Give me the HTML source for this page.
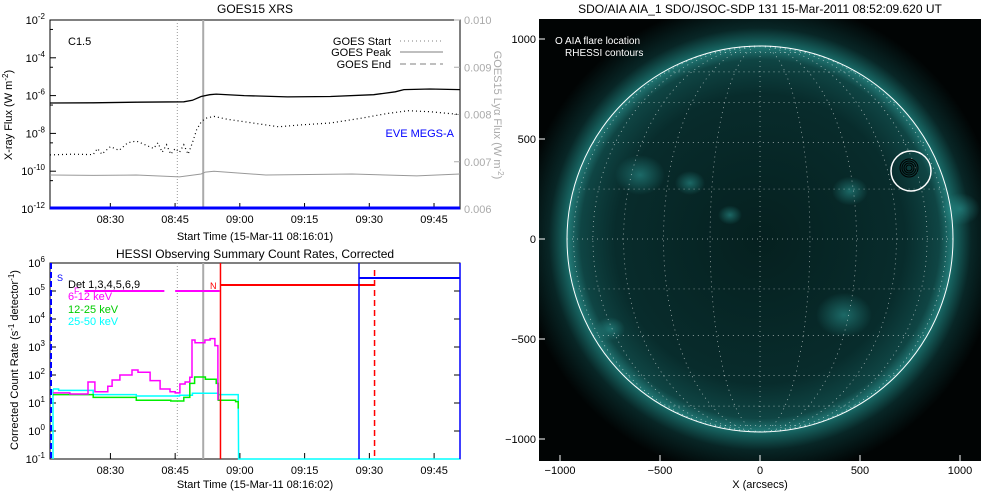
<!DOCTYPE html>
<html><head><meta charset="utf-8">
<style>
html,body{margin:0;padding:0;background:#fff;width:1000px;height:500px;overflow:hidden}
svg{display:block;font-family:"Liberation Sans",sans-serif}
</style></head>
<body>
<svg id="root" width="1000" height="500" viewBox="0 0 1000 500">
<defs>
<radialGradient id="haloG" cx="760" cy="239" r="240" gradientUnits="userSpaceOnUse">
<stop offset="0.78" stop-color="#26908c"/>
<stop offset="0.81" stop-color="#176562"/>
<stop offset="0.88" stop-color="#082626"/>
<stop offset="1" stop-color="#010404"/>
</radialGradient>
<radialGradient id="diskG" cx="760" cy="239" r="193" gradientUnits="userSpaceOnUse">
<stop offset="0" stop-color="#05201f"/>
<stop offset="0.75" stop-color="#082c2c"/>
<stop offset="0.93" stop-color="#0f4544"/>
<stop offset="1" stop-color="#237c79"/>
</radialGradient>
<radialGradient id="blob" cx="0.5" cy="0.5" r="0.5">
<stop offset="0" stop-color="#2a9490" stop-opacity="0.6"/>
<stop offset="1" stop-color="#2a9490" stop-opacity="0"/>
</radialGradient>
<clipPath id="imgClip"><rect x="539" y="19" width="442" height="442"/></clipPath>
</defs>
<g id="goes"></g>
<g id="hessi"></g>
<g id="aia"></g>
</svg>
<script>
// ---------- GOES data (t in minutes after 08:16:01, values log10 W m^-2) ----------
const goesLongT = [0, 10, 20, 31, 33, 35, 37, 38.5, 45, 55, 65, 75, 80, 82, 88, 95];
const goesLongV = [-6.39, -6.38, -6.35, -6.33, -6.25, -6.05, -5.95, -5.92, -6.0, -6.07, -6.05, -5.95, -5.8, -5.68, -5.65, -5.68];
const goesShortT = [0, 5, 10, 11, 12, 14, 16, 18, 20, 22, 24, 25, 26, 27, 28, 29, 30, 31, 32, 33, 34, 35, 36, 38, 41, 47, 53, 58, 65, 72, 78, 83, 88, 95];
const goesShortV = [-9.14, -9.1, -9.12, -8.8, -9.1, -8.7, -8.9, -8.5, -8.4, -8.6, -8.8, -8.5, -9.0, -8.6, -9.1, -8.8, -9.0, -8.6, -9.1, -8.5, -7.8, -7.4, -7.2, -7.1, -7.25, -7.45, -7.65, -7.55, -7.45, -7.2, -6.95, -6.8, -6.85, -7.0];
const goesLyaT = [0, 10, 20, 30, 35, 36, 38, 50, 70, 85, 95];
const goesLyaV = [-10.2, -10.22, -10.2, -10.3, -10.15, -10.05, -10.0, -10.2, -10.15, -10.25, -10.15];
const goesYTicks = [-2, -4, -6, -8, -10, -12];
const goesRightTicks = ["0.010", "0.009", "0.008", "0.007", "0.006"];
const timeTickLabels = ["08:30", "08:45", "09:00", "09:15", "09:30", "09:45"];
const timeTickMin = [13.98, 28.98, 43.98, 58.98, 73.98, 88.98];
const goesStartT = 29.5, goesPeakT = 35.5;

// ---------- HESSI data (t minutes after 08:16:02, log10 counts) ----------
const magT = [0.7, 4.6, 8.8, 10.4, 13.4, 14.4, 16.2, 19, 20.4, 23.2, 25.5, 27.8, 29, 30.1, 31.3, 32.4, 32.9, 33.6, 35.9, 37.1, 38.2, 38.9];
const magV = [1.36, 1.32, 1.75, 1.4, 1.6, 1.82, 2.0, 2.18, 2.1, 1.8, 1.5, 1.4, 1.36, 1.68, 1.75, 1.92, 3.25, 3.15, 3.25, 3.3, 3.05, 1.1];
const grnT = [0.7, 10, 20, 28, 29, 31, 32.4, 33.5, 36, 38.5, 39, 43, 43.6];
const grnV = [1.3, 1.2, 1.1, 1.07, 1.07, 1.2, 1.7, 1.93, 1.85, 1.7, 1.1, 1.05, 0.8];
const cyaT = [0.7, 2, 10, 20, 30, 33, 39, 43.6];
const cyaV = [1.5, 1.45, 1.3, 1.25, 1.28, 1.35, 1.3, 1.3];
const hessiYTicks = [6, 5, 4, 3, 2, 1, 0, -1];

// ---------- AIA ----------
const axTicks = [-1000, -500, 0, 500, 1000];
const flareX = 755, flareY = 340;
const sunR = 965;

const NS = "http://www.w3.org/2000/svg";
function mk(parent, tag, attrs, text) {
  const e = document.createElementNS(NS, tag);
  for (const k in attrs) e.setAttribute(k, attrs[k]);
  if (text !== undefined) e.textContent = text;
  parent.appendChild(e);
  return e;
}
const X0 = 50, X1 = 460;
const tx = t => X0 + t * (X1 - X0) / 95;

// ===== GOES panel =====
const G = document.getElementById("goes");
const gy = v => 20 + (-2 - v) * 18.9;
let e;
e = mk(G, "text", {x: 255, y: 13, "text-anchor": "middle", "font-size": 12}, "GOES15 XRS");


e = mk(G, "rect", {x: X0, y: 20, width: X1 - X0, height: 189, fill: "none", stroke: "#000"});


goesYTicks.forEach((v, i) => {
  const y = gy(v);
  const t = mk(G, "text", {x: 45, y: y + 4, "text-anchor": "end", "font-size": 11});
  
  
  t.innerHTML = '10<tspan dy="-5" font-size="8">' + v + '</tspan>';
  mk(G, "line", {x1: X0, x2: X0 + 6, y1: y, y2: y, stroke: "#000"});
  if (i < goesYTicks.length - 1) mk(G, "line", {x1: X0, x2: X0 + 3, y1: y + 9.45, y2: y + 9.45, stroke: "#000"});
});
goesRightTicks.forEach((s, i) => {
  const y = 20 + i * 189 / 4;
  const t = mk(G, "text", {x: 464, y: y + 4, "font-size": 11, fill: "#aaa"}, s);
  
  
  mk(G, "line", {x1: X1, x2: X1 - 6, y1: y, y2: y, stroke: "#aaa"});
});
timeTickMin.forEach((m, i) => {
  const x = tx(m);
  const t = mk(G, "text", {x: x, y: 223, "text-anchor": "middle", "font-size": 11}, timeTickLabels[i]);
  
  
  mk(G, "line", {x1: x, x2: x, y1: 209, y2: 203, stroke: "#000"});
});
e = mk(G, "text", {x: 255, y: 240, "text-anchor": "middle", "font-size": 11}, "Start Time (15-Mar-11 08:16:01)");


e = mk(G, "text", {x: 0, y: 0, "text-anchor": "middle", "font-size": 11, transform: "translate(12,115) rotate(-90)"});
e.innerHTML = 'X-ray Flux (W m<tspan dy="-4" font-size="8">-2</tspan><tspan dy="4">)</tspan>';


e = mk(G, "text", {x: 0, y: 0, "text-anchor": "middle", "font-size": 11, fill: "#aaa", transform: "translate(494,115) rotate(90)"});
e.innerHTML = 'GOES15 Lyα Flux (W m<tspan dy="-4" font-size="8">-2</tspan><tspan dy="4">)</tspan>';


e = mk(G, "line", {x1: tx(goesStartT), x2: tx(goesStartT), y1: 20, y2: 209, stroke: "#999", "stroke-dasharray": "1,2"});


e = mk(G, "line", {x1: tx(goesPeakT), x2: tx(goesPeakT), y1: 20, y2: 209, stroke: "#aaa", "stroke-width": 2});


function pts(T, V, yf) { return T.map((t, i) => tx(t).toFixed(1) + "," + yf(V[i]).toFixed(1)).join(" "); }
e = mk(G, "polyline", {points: pts(goesLongT, goesLongV, gy), fill: "none", stroke: "#000", "stroke-width": 1.3});


e = mk(G, "polyline", {points: pts(goesShortT, goesShortV, gy), fill: "none", stroke: "#000", "stroke-width": 1.2, "stroke-dasharray": "1,3"});


e = mk(G, "polyline", {points: pts(goesLyaT, goesLyaV, gy), fill: "none", stroke: "#999", "stroke-width": 1});


e = mk(G, "line", {x1: X0, x2: X1, y1: 208, y2: 208, stroke: "#0000ff", "stroke-width": 3});


e = mk(G, "text", {x: 68, y: 45, "font-size": 11}, "C1.5");


e = mk(G, "text", {x: 454, y: 137, "text-anchor": "end", "font-size": 11, fill: "#0000ff"}, "EVE MEGS-A");


[["GOES Start", "1,3", 41], ["GOES Peak", "", 52], ["GOES End", "6,4", 64]].forEach(l => {
  const t = mk(G, "text", {x: 391, y: l[2] + 4, "text-anchor": "end", "font-size": 11}, l[0]);
  
  
  mk(G, "line", {x1: 400, x2: 443, y1: l[2], y2: l[2], stroke: "#aaa", "stroke-width": 1.5, "stroke-dasharray": l[1]});
});

// ===== HESSI panel =====
const H = document.getElementById("hessi");
const hy = v => 263 + (6 - v) * 28;
e = mk(H, "text", {x: 255, y: 258, "text-anchor": "middle", "font-size": 12}, "HESSI Observing Summary Count Rates, Corrected");


e = mk(H, "rect", {x: X0, y: 263, width: X1 - X0, height: 196, fill: "none", stroke: "#000"});


hessiYTicks.forEach(v => {
  const y = hy(v);
  const t = mk(H, "text", {x: 45, y: y + 4, "text-anchor": "end", "font-size": 11});
  t.innerHTML = '10<tspan dy="-5" font-size="8">' + v + '</tspan>';
  
  
  mk(H, "line", {x1: X0, x2: X0 + 6, y1: y, y2: y, stroke: "#000"});
  mk(H, "line", {x1: X1, x2: X1 - 6, y1: y, y2: y, stroke: "#000"});
});
timeTickMin.forEach((m, i) => {
  const x = tx(m + 0.02);
  const t = mk(H, "text", {x: x, y: 474, "text-anchor": "middle", "font-size": 11}, timeTickLabels[i]);
  
  
  mk(H, "line", {x1: x, x2: x, y1: 459, y2: 453, stroke: "#000"});
});
e = mk(H, "text", {x: 255, y: 488, "text-anchor": "middle", "font-size": 11}, "Start Time (15-Mar-11 08:16:02)");


e = mk(H, "text", {x: 0, y: 0, "text-anchor": "middle", "font-size": 11, transform: "translate(18,360) rotate(-90)"});
e.innerHTML = 'Corrected Count Rate (s<tspan dy="-4" font-size="8">-1</tspan><tspan dy="4"> detector</tspan><tspan dy="-4" font-size="8">-1</tspan><tspan dy="4">)</tspan>';


e = mk(H, "line", {x1: tx(goesStartT), x2: tx(goesStartT), y1: 263, y2: 459, stroke: "#999", "stroke-dasharray": "1,2"});


e = mk(H, "line", {x1: tx(goesPeakT), x2: tx(goesPeakT), y1: 263, y2: 459, stroke: "#aaa", "stroke-width": 2});


function stepPts(T, V) {
  let s = [];
  T.forEach((t, i) => {
    if (i > 0) s.push(tx(t).toFixed(1) + "," + hy(V[i - 1]).toFixed(1));
    s.push(tx(t).toFixed(1) + "," + hy(V[i]).toFixed(1));
  });
  return s.join(" ");
}
e = mk(H, "polyline", {points: stepPts(cyaT, cyaV) + " " + tx(43.7) + "," + hy(-1) + " " + X1 + "," + hy(-1), fill: "none", stroke: "#00ffff", "stroke-width": 1.5});


e = mk(H, "line", {x1: 53, x2: 53, y1: hy(1.5), y2: 459, stroke: "#00ffff", "stroke-width": 1.5});
e = mk(H, "polyline", {points: stepPts(grnT, grnV), fill: "none", stroke: "#00ee00", "stroke-width": 1.5});


e = mk(H, "polyline", {points: stepPts(magT, magV), fill: "none", stroke: "#ff00ff", "stroke-width": 1.5});


e = mk(H, "line", {x1: tx(8), x2: tx(26.5), y1: hy(5), y2: hy(5), stroke: "#ff00ff", "stroke-width": 2});


mk(H, "line", {x1: tx(29), x2: tx(39.3), y1: hy(5), y2: hy(5), stroke: "#ff00ff", "stroke-width": 2});
e = mk(H, "line", {x1: tx(39.5), x2: tx(39.5), y1: 263, y2: 459, stroke: "#ff0000", "stroke-width": 1.5});


e = mk(H, "line", {x1: tx(39.5), x2: tx(75.2), y1: 285, y2: 285, stroke: "#ff0000", "stroke-width": 2});


e = mk(H, "line", {x1: tx(75.2), x2: tx(75.2), y1: 270, y2: 459, stroke: "#ff0000", "stroke-width": 1.5, "stroke-dasharray": "6,4"});


e = mk(H, "line", {x1: tx(71.6), x2: tx(71.6), y1: 263, y2: 459, stroke: "#0000ff", "stroke-width": 1.5});


e = mk(H, "line", {x1: tx(71.6), x2: X1, y1: 278, y2: 278, stroke: "#0000ff", "stroke-width": 2});


mk(H, "line", {x1: 51, x2: 51, y1: 263, y2: 459, stroke: "#0000ff", "stroke-width": 2, "stroke-dasharray": "6,3"});
mk(H, "line", {x1: 460, x2: 460, y1: 263, y2: 459, stroke: "#0000ff", "stroke-width": 1.5});
[["S", 57, 281, "#0000ff"], ["N", 210, 289, "#ff0000"], ["F", 74, 294, "#ff00ff"]].forEach(l => {
  const t = mk(H, "text", {x: l[1], y: l[2], "font-size": 9, fill: l[3]}, l[0]);
  
  
});
[["Det 1,3,4,5,6,9", "#000", 288], ["6-12 keV", "#ff00ff", 300], ["12-25 keV", "#00cc00", 313], ["25-50 keV", "#00ffff", 325]].forEach(l => {
  const t = mk(H, "text", {x: 68, y: l[2], "font-size": 11, fill: l[1]}, l[0]);
  
  
});

// ===== AIA panel =====
const A = document.getElementById("aia");
const ax = v => 760 + v * 0.2;
const ay = v => 239 - v * 0.2;
const R = sunR * 0.2;
e = mk(A, "text", {x: 760, y: 13, "text-anchor": "middle", "font-size": 12}, "SDO/AIA AIA_1 SDO/JSOC-SDP 131 15-Mar-2011 08:52:09.620 UT");


const IMG = mk(A, "g", {"clip-path": "url(#imgClip)"});
e = mk(IMG, "rect", {x: 539, y: 19, width: 442, height: 442, fill: "url(#haloG)"});


e = mk(IMG, "circle", {cx: 760, cy: 239, r: R, fill: "url(#diskG)"});


[[-600, 320, 25], [-350, 280, 15], [450, 240, 18], [420, -380, 28], [-750, -450, 15], [1000, 150, 20], [-150, 120, 12]].forEach(b => {
  mk(IMG, "ellipse", {cx: ax(b[0]), cy: ay(b[1]), rx: b[2], ry: b[2] * 0.8, fill: "url(#blob)"});
});
for (let lon = -75; lon <= 75; lon += 15) {
  const rx = Math.abs(R * Math.sin(lon * Math.PI / 180));
  mk(IMG, "path", {d: lon < 0 ? `M760,${239 - R} A${rx},${R} 0 0 0 760,${239 + R}` : `M760,${239 - R} A${rx},${R} 0 0 1 760,${239 + R}`, fill: "none", stroke: "#fff", "stroke-width": 0.7, "stroke-dasharray": "1,4", opacity: 0.7});
}
for (let lat = -75; lat <= 75; lat += 15) {
  const y = 239 - R * Math.sin(lat * Math.PI / 180);
  const hw = R * Math.cos(lat * Math.PI / 180);
  mk(IMG, "line", {x1: 760 - hw, x2: 760 + hw, y1: y, y2: y, stroke: "#fff", "stroke-width": 0.7, "stroke-dasharray": "1,4", opacity: 0.7});
}
e = mk(IMG, "circle", {cx: 760, cy: 239, r: R, fill: "none", stroke: "#fff", "stroke-width": 1});


e = mk(IMG, "circle", {cx: ax(flareX), cy: ay(flareY), r: 20, fill: "none", stroke: "#fff", "stroke-width": 1.5});


[9, 7, 5, 3].forEach(r => mk(IMG, "circle", {cx: ax(flareX) - 2, cy: ay(flareY) - 3, r: r, fill: "none", stroke: "#000", "stroke-width": 1}));
e = mk(A, "text", {x: 555, y: 44, "font-size": 10, fill: "#fff"}, "O AIA flare location");


e = mk(A, "text", {x: 565, y: 56, "font-size": 10, fill: "#fff"}, "RHESSI contours");


axTicks.forEach(v => {
  let t = mk(A, "text", {x: ax(v), y: 474, "text-anchor": "middle", "font-size": 11}, String(v).replace("-", "\u2212"));
  
  
  t = mk(A, "text", {x: 536, y: ay(v) + 4, "text-anchor": "end", "font-size": 11}, String(v).replace("-", "\u2212"));
  
  
  mk(A, "line", {x1: 539, x2: 545, y1: ay(v), y2: ay(v), stroke: "#fff"});
  mk(A, "line", {x1: ax(v), x2: ax(v), y1: 461, y2: 455, stroke: "#fff"});
});
e = mk(A, "text", {x: 760, y: 488, "text-anchor": "middle", "font-size": 11}, "X (arcsecs)");


</script>
</body></html>
